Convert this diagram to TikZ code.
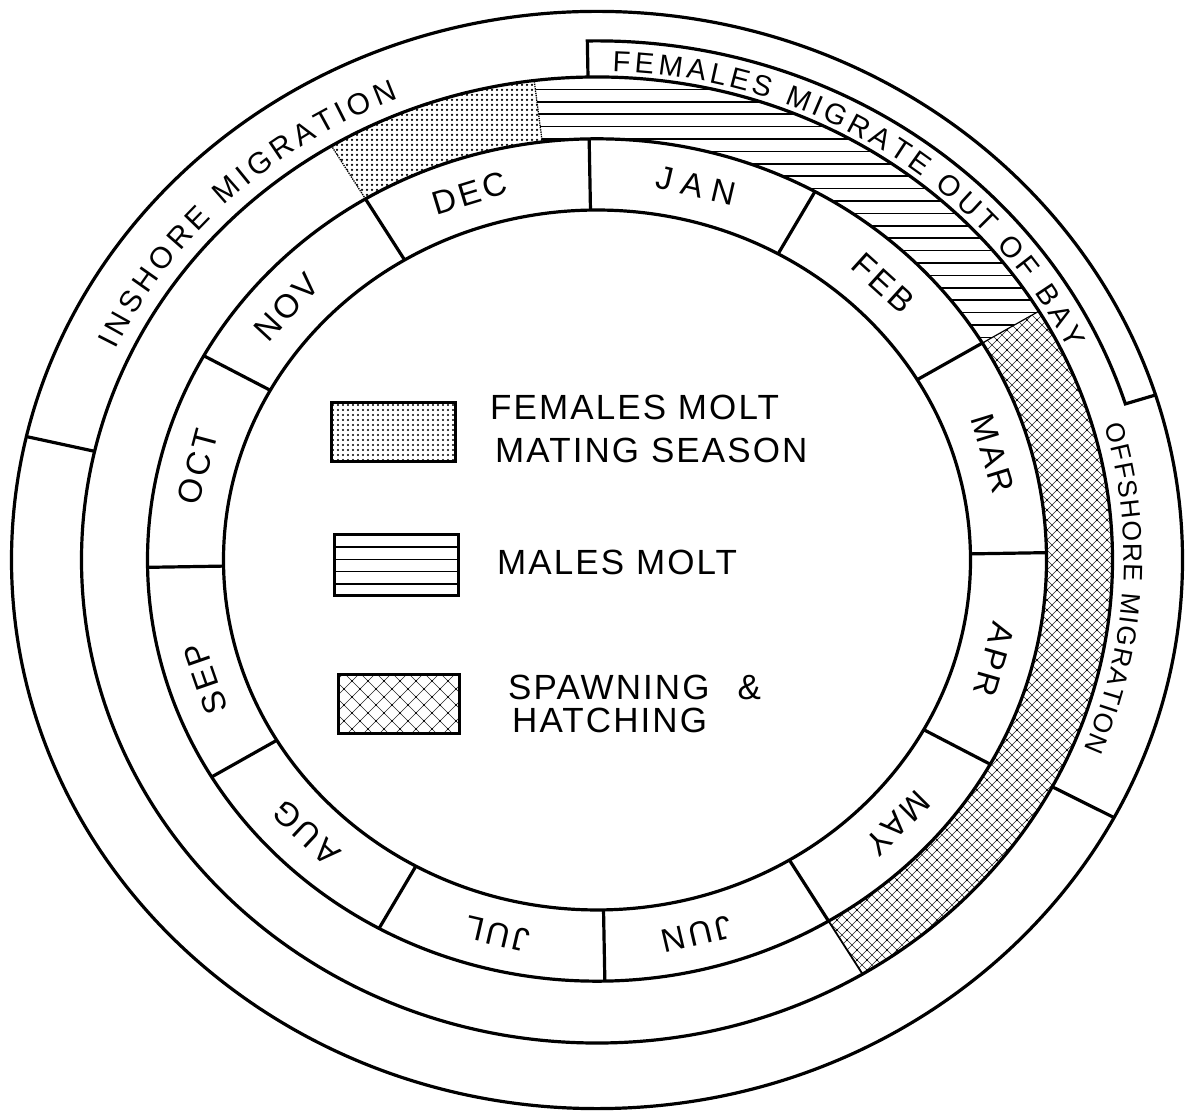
\documentclass[tikz,border=0pt]{standalone}
\usepackage{fontspec}
\setmainfont{Liberation Sans}
\newfontfamily\mfont[LetterSpace=10]{Liberation Sans}
\newfontfamily\lfont[LetterSpace=6]{Liberation Sans}
\usetikzlibrary{decorations.text}
\newcommand\monthfont{\mfont\fontsize{33pt}{35pt}\selectfont}
\newcommand\legfont{\lfont\fontsize{35pt}{38pt}\selectfont}
\newcommand\arcfontA{\fontsize{30pt}{32pt}\selectfont}
\newcommand\arcfontB{\fontsize{29pt}{31pt}\selectfont}
\newcommand\arcfontC{\fontsize{26.5pt}{28pt}\selectfont}
\begin{document}
\begin{tikzpicture}[x=1pt,y=1pt,
  heavy/.style={line width=3.2pt},
  medium/.style={line width=1.7pt},
  hatchln/.style={line width=0.5pt, black!85},
  monthlbl/.style={font=\monthfont, inner sep=0pt},
  legtxt/.style={font=\legfont, inner sep=0pt, anchor=base west},
  legbox/.style={line width=3pt}]
\useasboundingbox (0,0) rectangle (1188,1113);
\fill[white] (0,0) rectangle (1188,1113);

\begin{scope}[shift={(597,553)}]
  % dotted sector (females molt / mating season)
  \begin{scope}
    \clip (121:515.5 and 483.02) arc[start angle=121,end angle=97,x radius=515.5,y radius=483.02]
      -- (97:449.5 and 421.18) arc[start angle=97,end angle=121,x radius=449.5,y radius=421.18] -- cycle;
    \foreach \i in {-285,-280,...,-40}
      \foreach \j in {350,355,...,490}
        \fill (\i,\j) circle[radius=1.25];
  \end{scope}
  % striped sector (males molt)
  \begin{scope}
    \clip (97:515.5 and 483.02) arc[start angle=97,end angle=31,x radius=515.5,y radius=483.02]
      -- (31:449.5 and 421.18) arc[start angle=31,end angle=97,x radius=449.5,y radius=421.18] -- cycle;
    \foreach \k in {0,...,22}
      \draw[medium] (-80,{470.6-12.4*\k}) -- (540,{470.6-12.4*\k});
  \end{scope}
  % crosshatch sector (spawning & hatching)
  \begin{scope}
    \clip (31:515.5 and 483.02) arc[start angle=31,end angle=-59,x radius=515.5,y radius=483.02]
      -- (-59:449.5 and 421.18) arc[start angle=-59,end angle=31,x radius=449.5,y radius=421.18] -- cycle;
    \foreach \c in {-210,-200,...,790}
      \draw[hatchln] ({\c+500},-500) -- ({\c-500},500);
    \foreach \c in {-50,-40,...,950}
      \draw[hatchln] ({\c-500},-500) -- ({\c+500},500);
    \foreach \i in {220,230,...,520}
      \foreach \j in {-420,-410,...,260}
        {\fill (\i,\j) circle[radius=1.1];}
  \end{scope}

  % rings
  \draw[heavy] (0,0) ellipse[x radius=585.5,y radius=548.61];
  \draw[heavy] (0,0) ellipse[x radius=515.5,y radius=483.02];
  \draw[heavy] (0,0) ellipse[x radius=449.5,y radius=421.18];
  \draw[heavy] (0,0) ellipse[x radius=373.5,y radius=349.97];
  % month dividers
  \foreach \a in {91,61,31,1,-29,-59,-89,-119,-149,-179,151,121}
    \draw[heavy] (\a:373.5 and 349.97) -- (\a:449.5 and 421.18);
  % band edges
  \draw[line width=1.3pt, densely dotted] (121:449.5 and 421.18) -- (121:515.5 and 483.02);
  \draw[line width=1.3pt, densely dotted] (97:449.5 and 421.18) -- (97:515.5 and 483.02);
  \draw[line width=1.2pt] (31:449.5 and 421.18) -- (31:515.5 and 483.02);
  \draw[line width=1.8pt] (-59:449.5 and 421.18) -- (-59:515.5 and 483.02);
  % outer ring dividers
  \draw[heavy] (167:515.5 and 483.02) -- (167:585.5 and 548.61);
  \draw[heavy] (-28:515.5 and 483.02) -- (-28:585.5 and 548.61);
  % females-migrate box
  \draw[heavy] (91:515.5 and 483.02) -- (91:554 and 519.1)
    arc[start angle=91,end angle=17.5,x radius=554,y radius=519.1]
    -- (17.5:585.5 and 548.61);

  % month labels
  \foreach \a/\m/\n in {76/{J\hspace{9pt}A\hspace{9pt}N}/jan, 46/FEB/feb, 16/MAR/mar,
      -15/APR/apr, -43/MAY/may, -76/JUN/jun, -104/JUL/jul, -135/AUG/aug,
      -162/SEP/sep, 166/OCT/oct, 139/NOV/nov, 108/DEC/dec}
    \node[monthlbl, rotate={atan2(sin(\a),0.937*cos(\a))-90}] (\n) at (\a:411.5 and 385.57) {\m};

  % curved labels in the outer ring
  \path[decorate, decoration={text along path, text={|\arcfontA|INSHORE MIGRATION}, text align=fit to path}]
    (155:531 and 497.55) arc[start angle=155,end angle=112,x radius=531,y radius=497.55];
  \path[decorate, decoration={text along path, text={|\arcfontB|FEMALES MIGRATE OUT OF BAY}, text align=fit to path}]
    (88.3:522 and 489.11) arc[start angle=88.3,end angle=25.5,x radius=522,y radius=489.11];
  \path[decorate, decoration={text along path, text={|\arcfontC|OFFSHORE MIGRATION}, text align=fit to path}]
    (15.8:527 and 493.8) arc[start angle=15.8,end angle=-22.5,x radius=527,y radius=493.8];
\end{scope}

% legend: dotted box
\begin{scope}
  \clip (331,651) rectangle (455,710);
  \foreach \i in {333,338,...,455}
    \foreach \j in {653,658,...,710}
      \fill (\i,\j) circle[radius=1.2];
\end{scope}
\draw[legbox] (331,651) rectangle (455,710);
% legend: striped box
\foreach \k in {1,...,4}
  \draw[medium] (334,{578-12.2*\k}) -- (458,{578-12.2*\k});
\draw[legbox] (334,517) rectangle (458,578);
% legend: crosshatch box
\begin{scope}
  \clip (338,379) rectangle (459,438);
  \foreach \c in {688,704,...,928}
    \draw[hatchln] ({\c-340},340) -- ({\c-480},480);
  \foreach \c in {-128,-112,...,112}
    \draw[hatchln] ({\c+340},340) -- ({\c+480},480);
  \foreach \i in {320,336,...,464}
    \foreach \j in {368,384,...,448}
      {\fill (\i,\j) circle[radius=1.1]; \fill ({\i+8},{\j+8}) circle[radius=1.1];}
\end{scope}
\draw[legbox] (338,379) rectangle (459,438);

% legend texts
\node[legtxt] (l1a) at (490,693) {FEMALES MOLT};
\node[legtxt] (l1b) at (495,650) {MATING SEASON};
\node[legtxt] (l2) at (497,538) {MALES MOLT};
\node[legtxt] (l3a) at (508,413) {SPAWNING\hspace{28pt}\&};
\node[legtxt] (l3b) at (512,380) {HATCHING};
\end{tikzpicture}
\end{document}
